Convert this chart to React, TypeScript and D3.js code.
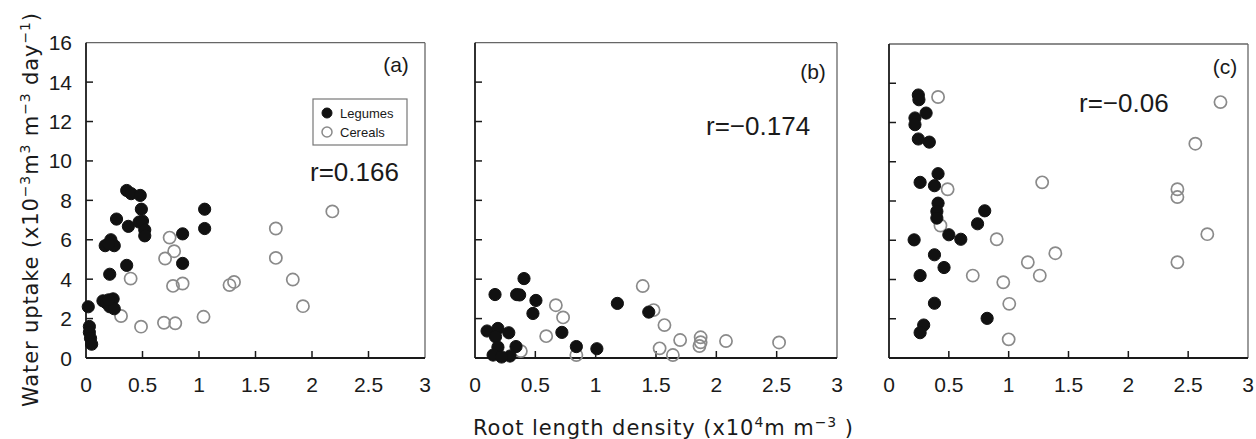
import React from "react";
import * as d3 from "d3";

// ---------- data ----------
const xTickValues = [0, 0.5, 1, 1.5, 2, 2.5, 3];
const yTickValues = [0, 2, 4, 6, 8, 10, 12, 14, 16];
const panelLabels = ["(a)", "(b)", "(c)"];
const rLabels = ["r=0.166", "r=\u22120.174", "r=\u22120.06"];
const seriesNames = ["Legumes", "Cereals"];

const legumesA: [number, number][] = [
  [0.02, 2.6], [0.03, 1.6], [0.03, 1.3], [0.04, 1.0], [0.05, 0.7],
  [0.15, 2.9], [0.18, 2.8], [0.21, 2.6], [0.24, 3.0], [0.25, 2.5], [0.2, 2.95],
  [0.21, 4.25], [0.17, 5.7], [0.22, 6.0], [0.25, 5.7], [0.2, 5.8],
  [0.27, 7.05], [0.36, 8.5], [0.4, 8.34], [0.48, 8.25], [0.375, 6.68],
  [0.36, 4.7], [0.49, 7.55], [0.47, 6.9], [0.5, 6.95], [0.52, 6.5], [0.52, 6.2],
  [0.855, 6.3], [0.855, 4.8], [1.05, 7.55], [1.05, 6.57],
];
const cerealsA: [number, number][] = [
  [0.31, 2.13], [0.395, 4.03], [0.487, 1.59], [0.69, 1.79], [0.79, 1.76],
  [0.7, 5.05], [0.74, 6.11], [0.78, 5.42], [0.77, 3.66], [0.855, 3.78],
  [1.04, 2.09], [1.27, 3.7], [1.31, 3.86], [1.68, 6.57], [1.68, 5.08],
  [1.83, 3.98], [1.92, 2.63], [2.18, 7.44],
];
const legumesB: [number, number][] = [
  [0.166, 3.22], [0.406, 4.03], [0.345, 3.22], [0.37, 3.2], [0.505, 2.92],
  [0.48, 2.26], [0.72, 1.3], [0.84, 0.58], [1.01, 0.47], [1.18, 2.77],
  [1.44, 2.33], [0.1, 1.37], [0.19, 1.5], [0.28, 1.28], [0.17, 1.08],
  [0.19, 0.55], [0.34, 0.58], [0.15, 0.15], [0.29, 0.1], [0.22, 0.05],
];
const cerealsB: [number, number][] = [
  [0.67, 2.68], [0.73, 2.06], [0.59, 1.11], [0.38, 0.35], [0.84, 0.15],
  [1.39, 3.65], [1.48, 2.43], [1.57, 1.67], [1.7, 0.91], [1.53, 0.49],
  [1.64, 0.15], [1.87, 1.05], [1.86, 0.61], [1.87, 0.8], [2.08, 0.86],
  [2.52, 0.79],
];
const legumesC: [number, number][] = [
  [0.245, 13.4], [0.25, 13.16], [0.31, 12.48], [0.217, 12.23], [0.217, 11.89],
  [0.245, 11.16], [0.337, 11.0], [0.26, 8.95], [0.38, 8.78], [0.41, 9.39],
  [0.41, 7.89], [0.4, 7.47], [0.4, 7.13], [0.8, 7.5], [0.74, 6.84],
  [0.5, 6.28], [0.6, 6.05], [0.21, 6.02], [0.38, 5.26], [0.46, 4.61],
  [0.26, 4.2], [0.38, 2.79], [0.82, 2.02], [0.29, 1.68], [0.26, 1.29],
];
const cerealsC: [number, number][] = [
  [0.41, 13.3], [0.49, 8.6], [0.43, 6.75], [0.9, 6.05], [0.7, 4.2],
  [0.955, 3.86], [1.005, 2.76], [1.0, 0.95], [1.16, 4.88], [1.26, 4.2],
  [1.39, 5.34], [1.28, 8.95], [2.41, 8.6], [2.41, 8.2], [2.41, 4.88],
  [2.66, 6.31], [2.56, 10.92], [2.77, 13.04],
];

const legumesByPanel = [legumesA, legumesB, legumesC];
const cerealsByPanel = [cerealsA, cerealsB, cerealsC];

// ---------- layout ----------
const W = 1256;
const H = 439;
const boxes = [
  { left: 86, right: 425, top: 42.7, bottom: 358 },
  { left: 475, right: 837, top: 42.7, bottom: 358 },
  { left: 889, right: 1248, top: 44, bottom: 358 },
];
const panelLabelPos = [
  { x: 396, y: 72 },
  { x: 813, y: 79 },
  { x: 1225, y: 74 },
];
const rLabelPos = [
  { x: 310, y: 181 },
  { x: 706, y: 135 },
  { x: 1079, y: 112 },
];

const TICK_FONT = "'Liberation Sans', Arial, sans-serif";
const TITLE_FONT = "'DejaVu Sans', Verdana, sans-serif";
const INK = "#1a1a1a";
const R = 6.1;

function Panel({ i }: { i: number }) {
  const b = boxes[i];
  const x = d3.scaleLinear().domain([0, 3]).range([b.left, b.right]);
  const y = d3.scaleLinear().domain([0, 16]).range([b.bottom, b.top]);
  const innerX = xTickValues.filter((v) => v > 0 && v < 3);
  const innerY = yTickValues.filter((v) => v > 0 && v < 16);
  return (
    <g>
      <line x1={b.left} x2={b.right} y1={b.top} y2={b.top} stroke="#666" strokeWidth={1.3} />
      <line x1={b.right} x2={b.right} y1={b.top} y2={b.bottom} stroke="#666" strokeWidth={1.3} />
      <line x1={b.left} x2={b.left} y1={b.top} y2={b.bottom} stroke={INK} strokeWidth={1.8} />
      <line x1={b.left} x2={b.right} y1={b.bottom} y2={b.bottom} stroke={INK} strokeWidth={2} />
      {innerX.map((v) => (
        <line key={"xt" + v} x1={x(v)} x2={x(v)} y1={b.bottom} y2={b.bottom - 7} stroke={INK} strokeWidth={1.5} />
      ))}
      {innerY.map((v) => (
        <line key={"yt" + v} x1={b.left} x2={b.left + 7} y1={y(v)} y2={y(v)} stroke={INK} strokeWidth={1.5} />
      ))}
      {xTickValues.map((v) => (
        <text key={"xl" + v} x={x(v)} y={392} textAnchor="middle" fontFamily={TICK_FONT} fontSize={21} fill={INK}>
          {String(v)}
        </text>
      ))}
      {i === 0 &&
        yTickValues.map((v) => (
          <text key={"yl" + v} x={72} y={y(v) + 7.5} textAnchor="end" fontFamily={TICK_FONT} fontSize={21} fill={INK}>
            {String(v)}
          </text>
        ))}
      {cerealsByPanel[i].map((p, k) => (
        <circle key={"c" + k} cx={x(p[0])} cy={y(p[1])} r={R} fill="none" stroke="#8a8a8a" strokeWidth={1.7} />
      ))}
      {legumesByPanel[i].map((p, k) => (
        <circle key={"l" + k} cx={x(p[0])} cy={y(p[1])} r={R} fill="#111" stroke="#111" strokeWidth={1} />
      ))}
      <text x={panelLabelPos[i].x} y={panelLabelPos[i].y} textAnchor="middle" fontFamily={TICK_FONT} fontSize={21} fill={INK}>
        {panelLabels[i]}
      </text>
      <text x={rLabelPos[i].x} y={rLabelPos[i].y} fontFamily={TICK_FONT} fontSize={26} fill={INK}>
        {rLabels[i]}
      </text>
    </g>
  );
}

export default function App() {
  const sup = { fontSize: 14 };
  return (
    <svg
      width={W}
      height={H}
      viewBox={`0 0 ${W} ${H}`}
      style={{ position: "absolute", left: 0, top: 0, background: "#fff" }}
    >
      <rect x={0} y={0} width={W} height={H} fill="#fff" />
      {[0, 1, 2].map((i) => (
        <Panel key={i} i={i} />
      ))}
      <g>
        <rect x={313} y={99} width={94} height={46} fill="#fff" stroke="#777" strokeWidth={1.2} />
        <circle cx={327} cy={113} r={5} fill="#111" stroke="#111" />
        <text x={340} y={118} fontFamily={TICK_FONT} fontSize={13} fill={INK}>{seriesNames[0]}</text>
        <circle cx={327} cy={132} r={5} fill="none" stroke="#8a8a8a" strokeWidth={1.5} />
        <text x={340} y={137} fontFamily={TICK_FONT} fontSize={13} fill={INK}>{seriesNames[1]}</text>
      </g>
      <text x={663} y={435} textAnchor="middle" fontFamily={TITLE_FONT} fontSize={21} fill={INK} textLength={380} lengthAdjust="spacing">
        Root length density (x10
        <tspan dy={-8} style={sup}>4</tspan>
        <tspan dy={8}>m m</tspan>
        <tspan dy={-8} style={sup}>{"\u22123"}</tspan>
        <tspan dy={8}> )</tspan>
      </text>
      <text
        transform="translate(38,210) rotate(-90)"
        textAnchor="middle"
        fontFamily={TITLE_FONT}
        fontSize={21}
        fill={INK}
        textLength={394}
        lengthAdjust="spacing"
      >
        Water uptake (x10
        <tspan dy={-8} style={sup}>{"\u22123"}</tspan>
        <tspan dy={8}>m</tspan>
        <tspan dy={-8} style={sup}>3</tspan>
        <tspan dy={8}> m</tspan>
        <tspan dy={-8} style={sup}>{"\u22123"}</tspan>
        <tspan dy={8}> day</tspan>
        <tspan dy={-8} style={sup}>{"\u22121"}</tspan>
        <tspan dy={8}>)</tspan>
      </text>
    </svg>
  );
}
